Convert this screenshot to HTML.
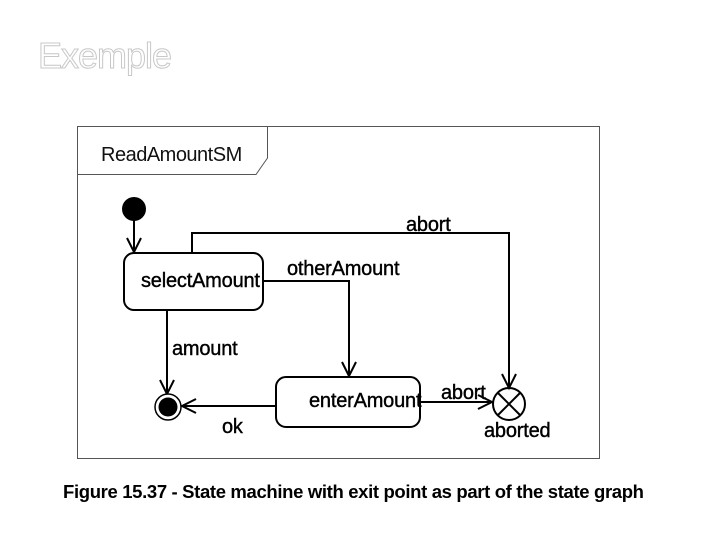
<!DOCTYPE html>
<html><head><meta charset="utf-8"><style>
html,body{margin:0;padding:0;background:#fff;width:720px;height:540px;overflow:hidden}
svg{display:block}
</style></head><body>
<svg width="720" height="540" viewBox="0 0 720 540" xmlns="http://www.w3.org/2000/svg" font-family="Liberation Sans, Arial, sans-serif">
<text x="38" y="68" font-size="36" fill="#fff" stroke="#c8c8c8" stroke-width="1" letter-spacing="-1">Exemple</text>
<rect x="77.5" y="126.5" width="522" height="332" fill="none" stroke="#555" stroke-width="1"/>
<polyline points="77.5,174.5 256,174.5 267.5,158 267.5,126.5" fill="none" stroke="#555" stroke-width="1"/>
<text x="101" y="161" font-size="20" fill="#111" letter-spacing="-0.5">ReadAmountSM</text>
<g stroke="#000" stroke-width="2" fill="none">
<line x1="134" y1="220" x2="134" y2="252"/>
<polyline points="127,238 134,252 141,238"/>
<rect x="124" y="253" width="139" height="57" rx="10"/>
<polyline points="192,253 192,233 509,233 509,388"/>
<polyline points="502,374 509,388 516,374"/>
<polyline points="263,281 349,281 349,376"/>
<polyline points="342,362 349,376 356,362"/>
<rect x="276" y="377" width="144" height="50" rx="10"/>
<line x1="167" y1="310" x2="167" y2="394"/>
<polyline points="160,380 167,394 174,380"/>
<line x1="276" y1="406" x2="182" y2="406"/>
<polyline points="196,399 182,406 196,413"/>
<line x1="420" y1="402" x2="492" y2="402"/>
<polyline points="478,395 492,402 478,409"/>
<circle cx="509" cy="404" r="16"/>
<line x1="498" y1="393" x2="520" y2="415"/>
<line x1="520" y1="393" x2="498" y2="415"/>
</g>
<circle cx="134" cy="209" r="12" fill="#000"/>
<circle cx="168" cy="407" r="13" fill="#fff" stroke="#000" stroke-width="1.5"/>
<circle cx="168" cy="407" r="9.5" fill="#000"/>
<g font-size="20" fill="#000" stroke="#000" stroke-width="0.4" letter-spacing="-0.2">
<text x="141" y="287">selectAmount</text>
<text x="309" y="407">enterAmount</text>
<text x="406" y="231">abort</text>
<text x="287" y="275">otherAmount</text>
<text x="172" y="355">amount</text>
<text x="222" y="433">ok</text>
<text x="441" y="399">abort</text>
<text x="484" y="437">aborted</text>
</g>
<text x="63" y="498" font-size="18.5" font-weight="bold" fill="#000" letter-spacing="-0.35">Figure 15.37 - State machine with exit point as part of the state graph</text>
</svg>
</body></html>
